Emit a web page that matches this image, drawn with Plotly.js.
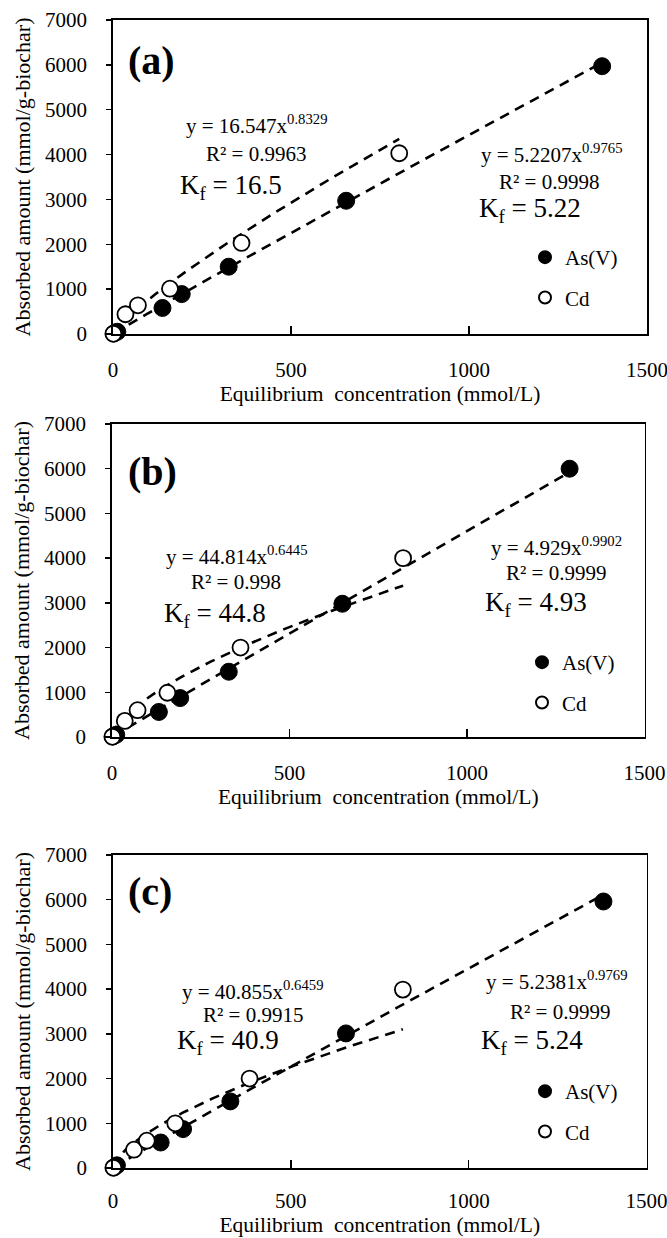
<!DOCTYPE html>
<html>
<head>
<meta charset="utf-8">
<script src="https://cdn.plot.ly/plotly-3.0.1.min.js"></script>
<style>
html,body{margin:0;padding:0;background:#ffffff;}
#chart{width:667px;height:1238px;}
</style>
</head>
<body>
<div id="chart"></div>
<script>
// ---------------- DATA ----------------
const panelLabels = ['(a)', '(b)', '(c)'];
const seriesNames = ['As(V)', 'Cd'];
const xTickVals = [0, 500, 1000, 1500];
const yTickVals = [0, 1000, 2000, 3000, 4000, 5000, 6000, 7000];
const xTitle = 'Equilibrium  concentration (mmol/L)';
const yTitle = 'Absorbed amount (mmol/g-biochar)';

// As(V) — panel (a), (b), (c)
const asXa = [3, 12, 139, 193, 325, 655, 1374];
const asYa = [15, 50, 580, 890, 1500, 2970, 5970];
const asXb = [3, 12, 132, 192, 329, 649, 1289];
const asYb = [15, 50, 560, 870, 1460, 2980, 6000];
const asXc = [3, 11, 134, 197, 330, 655, 1379];
const asYc = [15, 60, 570, 870, 1490, 3010, 5960];

// Cd — panel (a), (b), (c)
const cdXa = [1, 35, 70, 160, 361, 804];
const cdYa = [5, 440, 640, 1010, 2030, 4030];
const cdXb = [1, 36, 72, 156, 362, 820];
const cdYb = [5, 360, 600, 990, 2000, 4000];
const cdXc = [1, 59, 95, 175, 384, 815];
const cdYc = [5, 410, 610, 1000, 2000, 3990];

// Freundlich power-trendline fits printed on the chart (y = a x^b)
const asFitA = [5.2207, 4.929, 5.2381];
const asFitB = ['0.9765', '0.9902', '0.9769'];
const asR2 = ['0.9998', '0.9999', '0.9999'];
const asKf = ['5.22', '4.93', '5.24'];
const cdFitA = [16.547, 44.814, 40.855];
const cdFitB = ['0.8329', '0.6445', '0.6459'];
const cdR2 = ['0.9963', '0.998', '0.9915'];
const cdKf = ['16.5', '44.8', '40.9'];

// ---------------- LAYOUT CONSTANTS (pixels) ----------------
const W = 667, H = 1238;
const FONT = '"Liberation Serif", "Times New Roman", serif';
const px = v => v / W;
const py = v => 1 - v / H;

const boxes = [
  {l: 113, r: 647, t: 20, b: 334},
  {l: 112, r: 644.5, t: 424, b: 737},
  {l: 113, r: 646.5, t: 855, b: 1168}
];
const labelPos = [{x: 126, y: 61}, {x: 126, y: 472}, {x: 126, y: 892}];
const cdEqPos = [
  {eq: [256, 125], r2: [256, 154], kf: [231, 187]},
  {eq: [236, 555], r2: [236, 582], kf: [215, 615]},
  {eq: [252, 990], r2: [253, 1015], kf: [228, 1042]}
];
const asEqPos = [
  {eq: [551, 153], r2: [549, 182], kf: [530, 210]},
  {eq: [556, 547], r2: [556, 573], kf: [536, 604]},
  {eq: [556, 980], r2: [560, 1012], kf: [532, 1042]}
];
const legendPos = [{x: 525, y: 237}, {x: 522, y: 642}, {x: 525, y: 1071}];
const xTickStandoff = [16, 16, 13];
const xTitleStandoff = [2, 2, 0];

// ---------------- BUILD ----------------
const asX = [asXa, asXb, asXc], asY = [asYa, asYb, asYc];
const cdX = [cdXa, cdXb, cdXc], cdY = [cdYa, cdYb, cdYc];

function trend(xs, a, b) {
  const lo = Math.min(...xs), hi = Math.max(...xs);
  const tx = [], ty = [];
  const n = 150;
  for (let i = 0; i <= n; i++) {
    const x = lo + (hi - lo) * i / n;
    tx.push(x); ty.push(a * Math.pow(x, b));
  }
  return {tx, ty};
}

const traces = [];
const annotations = [];
const layout = {
  width: W, height: H,
  margin: {l: 0, r: 0, t: 0, b: 0},
  paper_bgcolor: '#ffffff', plot_bgcolor: '#ffffff',
  font: {family: FONT, size: 21, color: '#000000'},
  showlegend: true,
  annotations: annotations
};

for (let p = 0; p < 3; p++) {
  const s = p === 0 ? '' : String(p + 1);
  const xa = 'x' + s, ya = 'y' + s;
  const lg = 'legend' + s;
  const bx = boxes[p];

  const ct = trend(cdX[p], cdFitA[p], Number(cdFitB[p]));
  const at = trend(asX[p], asFitA[p], Number(asFitB[p]));
  const dashLine = {color: '#000000', width: 2.6, dash: '10px,7px'};
  traces.push({x: ct.tx, y: ct.ty, xaxis: xa, yaxis: ya, mode: 'lines', line: dashLine,
               showlegend: false, hoverinfo: 'skip', cliponaxis: false});
  traces.push({x: at.tx, y: at.ty, xaxis: xa, yaxis: ya, mode: 'lines', line: dashLine,
               showlegend: false, hoverinfo: 'skip', cliponaxis: false});
  traces.push({x: asX[p], y: asY[p], xaxis: xa, yaxis: ya, mode: 'markers', name: seriesNames[0],
               legend: lg, legendgroup: 'as' + p, cliponaxis: false,
               marker: {symbol: 'circle', size: 17, color: '#000000', line: {color: '#000000', width: 1}}});
  traces.push({x: cdX[p], y: cdY[p], xaxis: xa, yaxis: ya, mode: 'markers', name: seriesNames[1],
               legend: lg, legendgroup: 'cd' + p, cliponaxis: false,
               marker: {symbol: 'circle', size: 16, color: '#ffffff', line: {color: '#000000', width: 1.8}}});

  layout['xaxis' + s] = {
    domain: [px(bx.l), px(bx.r)], anchor: ya, range: [0, 1500],
    tickmode: 'array', tickvals: xTickVals, ticktext: xTickVals.map(String),
    ticks: 'inside', ticklen: 8, tickwidth: 1.5, tickcolor: '#000000',
    showline: true, mirror: true, linecolor: '#000000', linewidth: 1.8,
    showgrid: false, zeroline: false, ticklabelstandoff: xTickStandoff[p],
    ticklabeloverflow: 'allow',
    tickfont: {family: FONT, size: 21, color: '#000000'},
    title: {text: xTitle, font: {family: FONT, size: 21.5, color: '#000000'}, standoff: xTitleStandoff[p]}
  };
  layout['yaxis' + s] = {
    domain: [py(bx.b), py(bx.t)], anchor: xa, range: [0, 7000],
    tickmode: 'array', tickvals: yTickVals, ticktext: yTickVals.map(String),
    ticks: 'outside', ticklen: 5, tickwidth: 1.5, tickcolor: '#000000',
    showline: true, mirror: true, linecolor: '#000000', linewidth: 1.8,
    showgrid: false, zeroline: false, ticklabelstandoff: 15,
    tickfont: {family: FONT, size: 21, color: '#000000'},
    title: {text: yTitle, font: {family: FONT, size: 22, color: '#000000'}, standoff: 8}
  };
  layout[lg] = {
    x: px(legendPos[p].x), y: py(legendPos[p].y), xanchor: 'left', yanchor: 'top',
    bgcolor: 'rgba(0,0,0,0)', borderwidth: 0, tracegroupgap: 10,
    font: {family: FONT, size: 21, color: '#000000'}, itemsizing: 'constant'
  };

  annotations.push({xref: 'paper', yref: 'paper', x: px(labelPos[p].x), y: py(labelPos[p].y),
    xanchor: 'left', yanchor: 'middle', showarrow: false,
    text: '<b>' + panelLabels[p] + '</b>', font: {family: FONT, size: 40, color: '#000000'}});

  const addEq = (pos, A, B, r2, kf) => {
    annotations.push({xref: 'paper', yref: 'paper', x: px(pos.eq[0]), y: py(pos.eq[1]),
      xanchor: 'center', yanchor: 'middle', showarrow: false,
      text: 'y = ' + A + 'x<sup>' + B + '</sup>',
      font: {family: FONT, size: 21, color: '#000000'}});
    annotations.push({xref: 'paper', yref: 'paper', x: px(pos.r2[0]), y: py(pos.r2[1]),
      xanchor: 'center', yanchor: 'middle', showarrow: false,
      text: 'R² = ' + r2, font: {family: FONT, size: 21, color: '#000000'}});
    annotations.push({xref: 'paper', yref: 'paper', x: px(pos.kf[0]), y: py(pos.kf[1]),
      xanchor: 'center', yanchor: 'middle', showarrow: false,
      text: 'K<sub>f</sub> = ' + kf, font: {family: FONT, size: 27, color: '#000000'}});
  };
  addEq(cdEqPos[p], cdFitA[p], cdFitB[p], cdR2[p], cdKf[p]);
  addEq(asEqPos[p], asFitA[p], asFitB[p], asR2[p], asKf[p]);
}

Plotly.newPlot('chart', traces, layout, {staticPlot: true, displayModeBar: false});
</script>
</body>
</html>
